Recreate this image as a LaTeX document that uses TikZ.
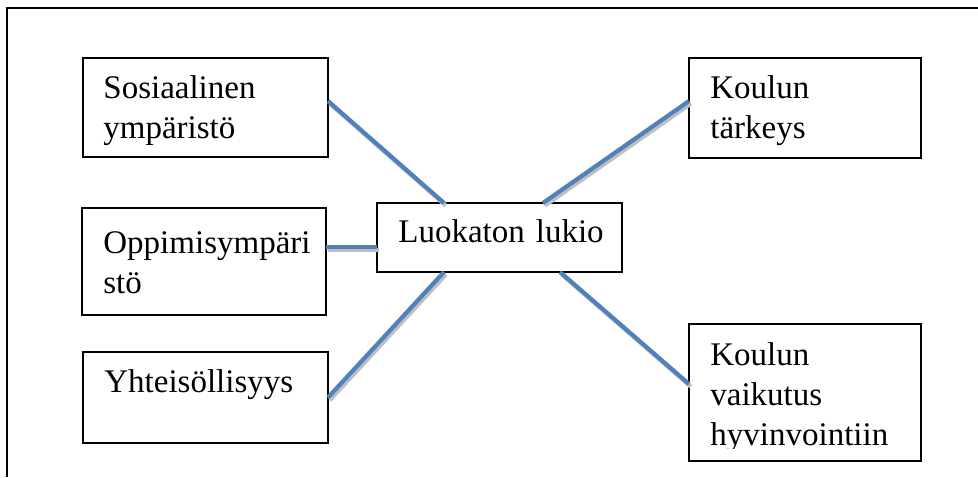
\documentclass[tikz,border=0pt]{standalone}
\usepackage{fontspec}
\setmainfont{Liberation Serif}
\usetikzlibrary{positioning,calc}
\definecolor{linkblue}{RGB}{79,129,189}

\begin{document}
\begin{tikzpicture}[x=0.5pt,y=-0.5pt,
    box/.style={draw=black,line width=0.65pt,rectangle,inner sep=0pt,outer sep=0pt},
    boxtext/.style={anchor=base west,inner sep=0pt,text width=112pt,align=left,
                    font=\fontsize{16.5}{20}\selectfont},
    link/.style={draw=linkblue,line width=2.1pt,
                 preaction={draw=black!25,line width=2.1pt,
                            transform canvas={xshift=0.9pt,yshift=-1.3pt}}}]
            \useasboundingbox (0,0) rectangle (978,477);
            % Draw frame
            \draw[line width=1pt] (978,8) -- (7,8) -- (7,477);
            % draw boxes
            \node[box,minimum width=122.5pt,minimum height=49.5pt] (sosiaalinen) at (205.5,107.5) {};
            \node[box,minimum width=122pt,minimum height=53.5pt]   (oppimis)     at (204,261.5)   {};
            \node[box,minimum width=122.5pt,minimum height=45.5pt] (yhteis)      at (205.5,397.5) {};
            \node[box,minimum width=122.5pt,minimum height=34.5pt] (luokaton)    at (499.5,237.5) {};
            \node[box,minimum width=116pt,minimum height=50pt]     (tarkeys)     at (805,108)     {};
            \node[box,minimum width=116pt,minimum height=68.5pt]   (vaikutus)    at (805,392.5)   {};
            % box texts
            \node[boxtext] (sosiaalinen-text) at ([xshift=10pt,yshift=-20pt]sosiaalinen.north west) {Sosiaalinen\\ympäristö};
            \node[boxtext] (oppimis-text)     at ([xshift=10.5pt,yshift=-22.5pt]oppimis.north west) {Oppimisympäri\\stö};
            \node[boxtext] (yhteis-text)      at ([xshift=10.5pt,yshift=-20pt]yhteis.north west) {Yhteisöllisyys};
            \node[boxtext] (luokaton-text)    at ([xshift=10.5pt,yshift=-19.5pt]luokaton.north west) {Luokaton lukio};
            \node[boxtext] (tarkeys-text)     at ([xshift=10.5pt,yshift=-20pt]tarkeys.north west) {Koulun\\tärkeys};
            \begin{scope}
              \clip (vaikutus.north west) rectangle ([yshift=6.5pt]vaikutus.south east);
              \node[boxtext] (vaikutus-text)  at ([xshift=10.5pt,yshift=-20.5pt]vaikutus.north west) {Koulun\\vaikutus\\hyvinvointiin};
            \end{scope}
            % draw links to the middle
            \draw[link] ([yshift=3.25pt]sosiaalinen.east) -- ([xshift=-27.75pt]luokaton.north);
            \draw[link] ([yshift=7.25pt]oppimis.east)     -- ([yshift=-4.75pt]luokaton.west);
            \draw[link] (yhteis.east)                     -- ([xshift=-27.75pt]luokaton.south);
            \draw[link] ([yshift=3.5pt]tarkeys.west)      -- ([xshift=21.75pt]luokaton.north);
            \draw[link] ([xshift=30.25pt]luokaton.south)  -- ([yshift=4.25pt]vaikutus.west);
\end{tikzpicture}
\end{document}
